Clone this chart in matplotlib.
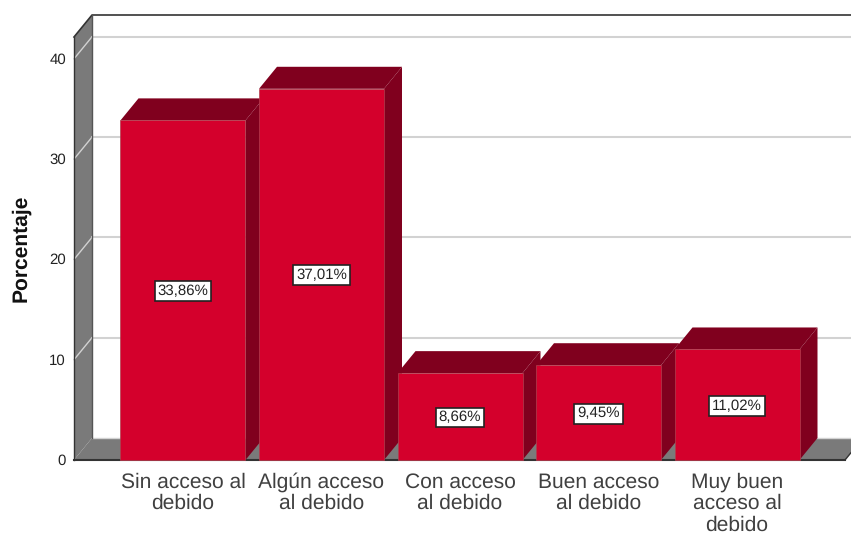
import matplotlib
matplotlib.use('Agg')
import matplotlib.pyplot as plt
from matplotlib.patches import Polygon

plt.rcParams['font.family'] = ['Liberation Sans', 'DejaVu Sans']
plt.rcParams['text.hinting'] = 'no_hinting'
plt.rcParams['text.hinting_factor'] = 1

categories = ['Sin acceso al\ndebido', 'Algún acceso\nal debido', 'Con acceso\nal debido',
              'Buen acceso\nal debido', 'Muy buen\nacceso al\ndebido']
values = [33.86, 37.01, 8.66, 9.45, 11.02]
value_labels = ['33,86%', '37,01%', '8,66%', '9,45%', '11,02%']
y_ticks = [0, 10, 20, 30, 40]

FRONT = '#D4002C'
DARK = '#80001E'
WALL = '#7A7A7A'
GRID = '#D2D2D2'

# pixel layout of the reference
W, H = 851, 534
px_per_cat = 138.5
px_per_val = 10.03
first_center = 183
base_y = 460

bar_w = 125 / px_per_cat
dx = 18 / px_per_cat
dy = 22 / px_per_val
x_left = (74 - first_center) / px_per_cat
x_right = (845 - first_center) / px_per_cat
y_top = (base_y - 37) / px_per_val


def poly(ax, pts, color, z, edge='none', lw=0):
    ax.add_patch(Polygon(pts, closed=True, facecolor=color, edgecolor=edge, linewidth=lw, zorder=z))


fig = plt.figure(figsize=(W / 100, H / 100), dpi=100)
ax = fig.add_axes([0, 0, 1, 1])
ax.set_xlim(-first_center / px_per_cat, (W - first_center) / px_per_cat)
ax.set_ylim((base_y - H) / px_per_val, base_y / px_per_val)
ax.axis('off')

# left wall and floor
poly(ax, [(x_left, 0), (x_left + dx, dy), (x_left + dx, y_top + dy), (x_left, y_top)], WALL, 1)
poly(ax, [(x_left, 0), (x_right, 0), (x_right + dx, dy), (x_left + dx, dy)], WALL, 1)

# grid on back wall and wall diagonals
for t in y_ticks[1:]:
    ax.plot([x_left + dx, x_right + dx], [t + dy, t + dy], color=GRID, lw=1.5, zorder=2)
    ax.plot([x_left, x_left + dx], [t, t + dy], color=GRID, lw=1.0, zorder=2)
ax.plot([x_left + dx, x_right + dx], [dy, dy], color=GRID, lw=1.0, zorder=2)

# frame
ax.plot([x_left, x_left + dx, x_right + dx], [y_top, y_top + dy, y_top + dy], color='#333333', lw=1.2, zorder=2)
ax.plot([x_left, x_left], [0, y_top], color='#333333', lw=1.0, zorder=2)
ax.plot([x_left + dx, x_left + dx], [dy, y_top + dy], color='#555555', lw=1.0, zorder=2)
ax.plot([x_left, x_right], [0, 0], color='#333333', lw=1.5, zorder=2)
ax.plot([x_right, x_right + dx], [0, dy], color='#333333', lw=1.0, zorder=2)

for i, v in enumerate(values):
    z = 3 + i
    l = i - bar_w / 2
    r = i + bar_w / 2
    poly(ax, [(r, 0), (r + dx, dy), (r + dx, v + dy), (r, v)], DARK, z)
    poly(ax, [(l, v), (r, v), (r + dx, v + dy), (l + dx, v + dy)], DARK, z)
    ax.bar(i, v, width=bar_w, color=FRONT, edgecolor='#B0404F', linewidth=0.5, zorder=z)
    ax.text(i, v / 2 - 0.1, value_labels[i], ha='center', va='center', fontsize=10.5, color='#222222', zorder=20,
            bbox=dict(boxstyle='square,pad=0.2', facecolor='white', edgecolor='#222222', linewidth=1.2))
    # one text per line, the accent in Algún would move a multiline block
    for k, line in enumerate(categories[i].split('\n')):
        ax.text(i, -(27.5 + 21.5 * k) / px_per_val, line, ha='center', va='baseline', fontsize=14.8,
                color='#404040', zorder=20)

for t in y_ticks:
    ax.text(x_left - 8 / px_per_cat, t - 0.1, str(t), ha='right', va='center', fontsize=10.5, color='#222222')

ax.text(-162 / px_per_cat, 21.1, 'Porcentaje', rotation=90, ha='center', va='center',
        fontsize=15, fontweight='bold', color='#111111')

fig.savefig('out.png', dpi=100, facecolor='white')
